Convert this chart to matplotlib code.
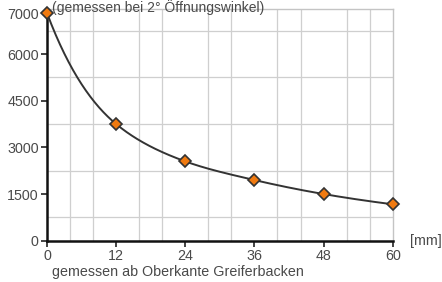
import numpy as np
import matplotlib
matplotlib.use("Agg")
import matplotlib.pyplot as plt
from matplotlib.ticker import FixedLocator

plt.rcParams['font.family'] = ['Liberation Sans', 'DejaVu Sans']

# === Daten ===
abstand_mm = [0, 12, 24, 36, 48, 60]
kraft = [7000, 3750, 2550, 1950, 1500, 1170]
y_ticks = [0, 1500, 3000, 4500, 6000, 7000]
x_ticks = [0, 12, 24, 36, 48, 60]

# Skala im Original ist oberhalb 6000 gestreckt
K = 1.32
def fwd(v):
    v = np.asarray(v, dtype=float)
    return np.where(v <= 6000, v, 6000 + (v - 6000) * K)

def inv(p):
    p = np.asarray(p, dtype=float)
    return np.where(p <= 6000, p, 6000 + (p - 6000) / K)

# monotone kubische Interpolation (PCHIP) fuer die Kurve
def pchip(x, y, xn):
    x = np.asarray(x, float); y = np.asarray(y, float)
    h = np.diff(x); d = np.diff(y) / h
    m = np.zeros_like(y)
    for i in range(1, len(x) - 1):
        if d[i-1] * d[i] > 0:
            w1 = 2 * h[i] + h[i-1]; w2 = h[i] + 2 * h[i-1]
            m[i] = (w1 + w2) / (w1 / d[i-1] + w2 / d[i])
    m[0] = ((2 * h[0] + h[1]) * d[0] - h[0] * d[1]) / (h[0] + h[1])
    m[-1] = ((2 * h[-1] + h[-2]) * d[-1] - h[-1] * d[-2]) / (h[-1] + h[-2])
    idx = np.clip(np.searchsorted(x, xn) - 1, 0, len(x) - 2)
    t = (xn - x[idx]) / h[idx]
    h00 = 2*t**3 - 3*t**2 + 1; h10 = t**3 - 2*t**2 + t
    h01 = -2*t**3 + 3*t**2; h11 = t**3 - t**2
    return h00*y[idx] + h10*h[idx]*m[idx] + h01*y[idx+1] + h11*h[idx]*m[idx+1]

xs = np.linspace(0, 60, 400)
ys = inv(np.exp(pchip(abstand_mm, np.log(fwd(kraft)), xs)))

fig = plt.figure(figsize=(4.42, 2.82), dpi=100)
ax = fig.add_axes([0.1063, 0.1465, 0.7822, 0.8205])
ax.set_yscale('function', functions=(fwd, inv))

ax.plot(xs, ys, color='#333333', lw=1.4, zorder=3)
ax.plot(abstand_mm, kraft, linestyle='none', marker='D', markersize=6,
        markerfacecolor='#f07a10', markeredgecolor='#333333', markeredgewidth=1.2,
        zorder=4, clip_on=False)

ax.set_xlim(0, 60)
ax.set_ylim(0, float(inv(7440)))
ax.set_xticks(x_ticks)
ax.set_yticks(y_ticks)
ax.set_yticklabels([str(v) for v in y_ticks])
ax.xaxis.set_minor_locator(FixedLocator(np.arange(0, 61, 4)))
ax.yaxis.set_minor_locator(FixedLocator(inv(np.arange(0, 7500, 750))))
ax.grid(which='minor', color='#cfcfcf', lw=0.9)
ax.tick_params(which='minor', length=0)
ax.tick_params(which='major', length=4, width=1.2, color='#222222',
               labelsize=10.3, labelcolor='#4a4a4a', pad=2)
ax.set_axisbelow(True)

for s in ['left', 'bottom']:
    ax.spines[s].set_linewidth(1.8)
    ax.spines[s].set_color('#111111')
for s in ['top', 'right']:
    ax.spines[s].set_linewidth(1.0)
    ax.spines[s].set_color('#c4c4c4')

fig.text(52 / 442, 1 - 0.5 / 282, "(gemessen bei 2° Öffnungswinkel)", fontsize=10.0,
         color='#4a4a4a', ha='left', va='top')
fig.text(410 / 442, 1 - 241 / 282, "[mm]", fontsize=10.3, color='#4a4a4a',
         ha='left', va='center')
fig.text(52 / 442, 1 - 272 / 282, "gemessen ab Oberkante Greiferbacken", fontsize=10.3,
         color='#4a4a4a', ha='left', va='center')

fig.savefig("out.png", dpi=100)
